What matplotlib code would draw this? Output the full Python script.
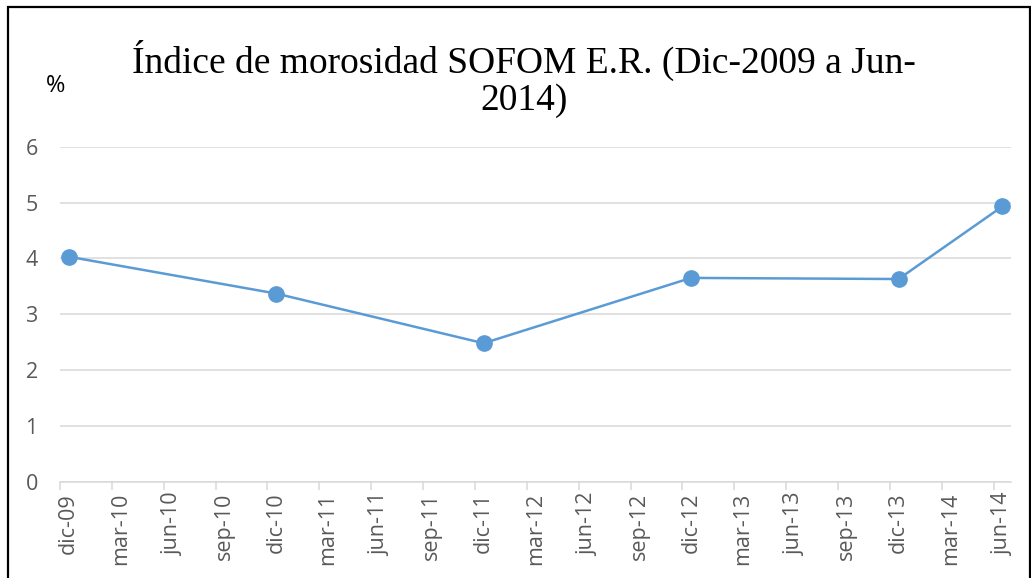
import matplotlib
matplotlib.use("Agg")
import matplotlib.pyplot as plt
from matplotlib.patches import Rectangle

# Data
month_labels = ["dic-09", "mar-10", "jun-10", "sep-10", "dic-10", "mar-11", "jun-11",
                "sep-11", "dic-11", "mar-12", "jun-12", "sep-12", "dic-12", "mar-13",
                "jun-13", "sep-13", "dic-13", "mar-14", "jun-14"]
point_months = [0, 12, 24, 36, 48, 54]          # months since dic-09
morosidad = [4.03, 3.37, 2.48, 3.65, 3.63, 4.93]
total_months = 55
title = "Índice de morosidad SOFOM E.R. (Dic-2009 a Jun-\n2014)"

W, H = 1031, 578
fig = plt.figure(figsize=(W / 100, H / 100), dpi=100)
fig.patch.set_facecolor("white")

ax = fig.add_axes([60 / W, (H - 481.7) / H, (1011 - 60) / W, (481.7 - 146.7) / H])
ax.plot(point_months, morosidad, color="#5B9BD5", linewidth=1.8, marker="o",
        markersize=11, markerfacecolor="#5B9BD5", markeredgecolor="#5B9BD5", zorder=3)

ax.set_xlim(-0.5, total_months - 0.5)
ax.set_ylim(0, 6)
ax.set_yticks(range(0, 7))
ax.yaxis.grid(True, color="#d9d9d9", linewidth=1.1)
ax.set_axisbelow(True)

major = [i * 3 - 0.5 for i in range(len(month_labels))]
minor = [i * 3 for i in range(len(month_labels))]
ax.set_xticks(major)
ax.set_xticklabels([])
ax.set_xticks(minor, minor=True)
ax.set_xticklabels(month_labels, minor=True, rotation=90, fontsize=15.5,
                   color="#595959", family="Open Sans")
ax.tick_params(axis="x", which="major", length=5.5, width=1.1, color="#d9d9d9", direction="out")
ax.tick_params(axis="x", which="minor", length=0, pad=8)
ax.tick_params(axis="y", length=0, pad=16, labelsize=15.5, labelcolor="#595959")
for lab in ax.get_yticklabels():
    lab.set_family("Open Sans")

for s in ["top", "right", "left"]:
    ax.spines[s].set_visible(False)
ax.spines["bottom"].set_color("#d9d9d9")
ax.spines["bottom"].set_linewidth(1.1)

fig.text(524 / W, 1 - 79 / H, title, ha="center", va="center", fontsize=27,
         family="Liberation Serif", color="black", linespacing=1.08)
fig.text(56 / W, 1 - 86 / H, "%", ha="center", va="center", fontsize=17,
         family="Open Sans", color="black")

fig.patches.append(Rectangle((8 / W, -0.05), (1030 - 8) / W, 1 - 7 / H + 0.05,
                             transform=fig.transFigure, fill=False,
                             edgecolor="black", linewidth=1.6))

fig.savefig("out.png", dpi=100)
